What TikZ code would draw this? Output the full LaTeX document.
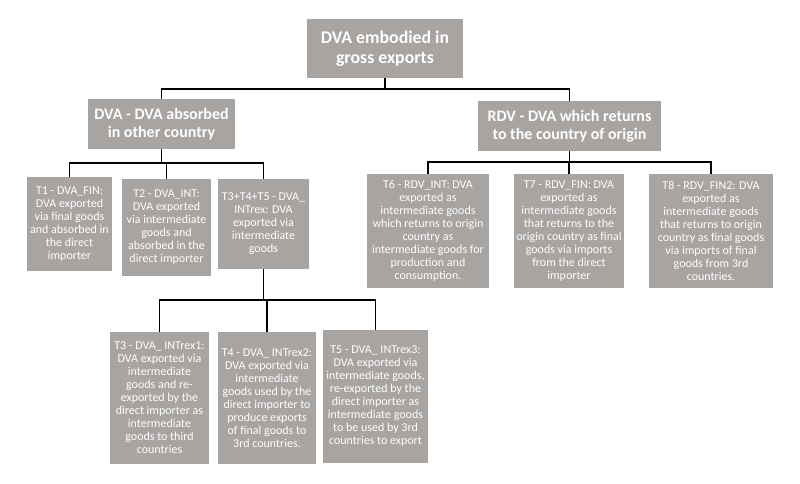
\documentclass[tikz,border=0pt]{standalone}
\usepackage{fontspec}
\setmainfont{Carlito}
\definecolor{boxgrey}{HTML}{A7A4A2}
\begin{document}
\begin{tikzpicture}[x=1pt,y=-1pt,
  box/.style={draw=none,fill=boxgrey,text=white,align=center,inner sep=0pt,
    font=\fontsize{12}{13}\selectfont},
  headbox/.style={box,font=\bfseries\fontsize{16}{17.7}\selectfont},
  rootbox/.style={box,font=\bfseries\fontsize{17.8}{20}\selectfont},
  link/.style={draw=black,line width=1.6pt}]
\useasboundingbox[fill=white] (0,0) rectangle (800,483);

\node[rootbox,minimum width=156pt,minimum height=59pt] (root) at (385,48.5)
  {DVA embodied in\\gross exports};
\node[headbox,minimum width=147pt,minimum height=50pt] (dva) at (161.5,124)
  {DVA - DVA absorbed\\in other country};
\node[headbox,minimum width=183pt,minimum height=50pt] (rdv) at (569.5,126)
  {RDV - DVA which returns\\to the country of origin};

\node[box,minimum width=85pt,minimum height=94pt] (t1) at (69.5,224)
  {T1 - DVA\_FIN:\\DVA exported\\via final goods\\and absorbed in\\the direct\\importer};
\node[box,minimum width=89pt,minimum height=97pt] (t2) at (166.5,227.5)
  {T2 - DVA\_INT:\\DVA exported\\via intermediate\\goods and\\absorbed in the\\direct importer};
\node[box,minimum width=91pt,minimum height=90pt] (t345) at (263.5,224)
  {T3+T4+T5 - DVA\_\\INTrex: DVA\\exported via\\intermediate\\goods};

\node[box,minimum width=122pt,minimum height=114pt] (t6) at (428,231)
  {T6 - RDV\_INT: DVA\\exported as\\intermediate goods\\which returns to origin\\country as\\intermediate goods for\\production and\\consumption.};
\node[box,minimum width=110pt,minimum height=114pt] (t7) at (569,231)
  {T7 - RDV\_FIN: DVA\\exported as\\intermediate goods\\that returns to the\\origin country as final\\goods via imports\\from the direct\\importer};
\node[box,minimum width=124pt,minimum height=114pt] (t8) at (711,231)
  {T8 - RDV\_FIN2: DVA\\exported as\\intermediate goods\\that returns to origin\\country as final goods\\via imports of final\\goods from 3rd\\countries.};

\node[box,minimum width=99pt,minimum height=132pt] (t3) at (159.5,398)
  {T3 - DVA\_ INTrex1:\\DVA exported via\\intermediate\\goods and re-\\exported by the\\direct importer as\\intermediate\\goods to third\\countries};
\node[box,minimum width=98pt,minimum height=132pt] (t4) at (267,398)
  {T4 - DVA\_ INTrex2:\\DVA exported via\\intermediate\\goods used by the\\direct importer to\\produce exports\\of final goods to\\3rd countries.};
\node[box,minimum width=105pt,minimum height=133pt] (t5) at (375.5,396.5)
  {T5 - DVA\_ INTrex3:\\DVA exported via\\intermediate goods,\\re-exported by the\\direct importer as\\intermediate goods\\to be used by 3rd\\countries to export};

\draw[link] (root.south) -- ++(0,11) -| (dva.north);
\draw[link] (root.south) -- ++(0,11) -| (rdv.north);

\draw[link] (dva.south) -- ++(0,14) -| (t1.north);
\draw[link] (dva.south) -- ++(0,14) -| (t2.north);
\draw[link] (dva.south) -- ++(0,14) -| (t345.north);

\draw[link] (rdv.south) -- ++(0,11) -| (t6.north);
\draw[link] (rdv.south) -- ++(0,11) -| (t7.north);
\draw[link] (rdv.south) -- ++(0,11) -| (t8.north);

\draw[link] (t345.south) -- ++(0,31) -| (t3.north);
\draw[link] (t345.south) -- ++(0,31) -| (t4.north);
\draw[link] (t345.south) -- ++(0,31) -| (t5.north);
\end{tikzpicture}
\end{document}
